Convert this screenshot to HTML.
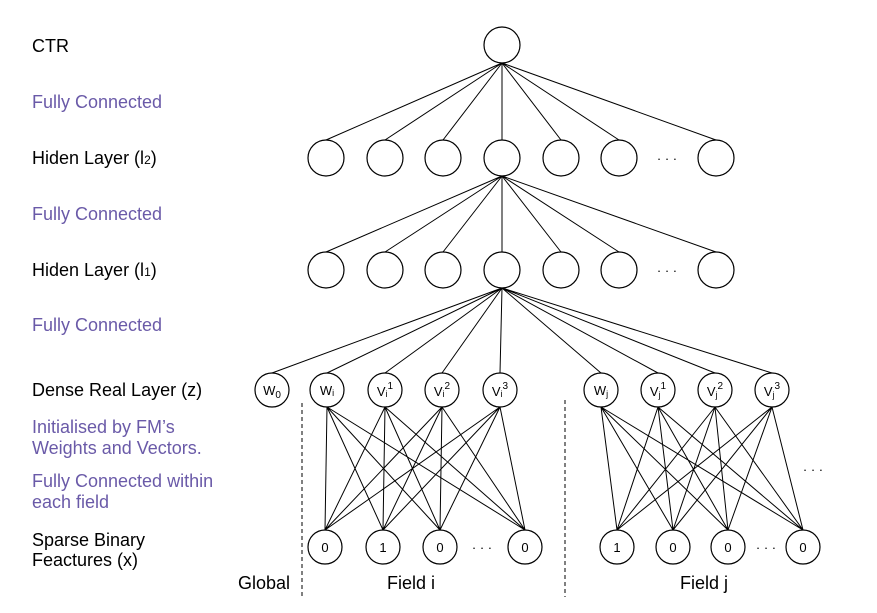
<!DOCTYPE html>
<html><head><meta charset="utf-8"><style>
html,body{margin:0;padding:0;background:#fff;}
svg text{font-family:"Liberation Sans",Arial,sans-serif;}
</style></head><body>
<svg width="877" height="608" viewBox="0 0 877 608" xmlns="http://www.w3.org/2000/svg">
<g font-size="18" fill="#000">
<text x="32" y="52">CTR</text>
<text x="32" y="108" fill="#6a5aa8">Fully Connected</text>
<text x="32" y="164">Hiden Layer (l<tspan font-size="12">2</tspan>)</text>
<text x="32" y="220" fill="#6a5aa8">Fully Connected</text>
<text x="32" y="276">Hiden Layer (l<tspan font-size="12">1</tspan>)</text>
<text x="32" y="331" fill="#6a5aa8">Fully Connected</text>
<text x="32" y="396">Dense Real Layer (z)</text>
<text x="32" y="433" fill="#6a5aa8">Initialised by FM’s</text>
<text x="32" y="454" fill="#6a5aa8">Weights and Vectors.</text>
<text x="32" y="487" fill="#6a5aa8">Fully Connected within</text>
<text x="32" y="508" fill="#6a5aa8">each field</text>
<text x="32" y="546">Sparse Binary</text>
<text x="32" y="566">Feactures (x)</text>
<text x="238" y="589">Global</text>
<text x="387" y="589">Field i</text>
<text x="680" y="589">Field j</text>
</g>
<g stroke="#000" stroke-width="1" fill="none">
<path d="M502 63L326 140M502 63L385 140M502 63L443 140M502 63L502 140M502 63L561 140M502 63L619 140M502 63L716 140"/>
<path d="M502 176L326 252M502 176L385 252M502 176L443 252M502 176L502 252M502 176L561 252M502 176L619 252M502 176L716 252"/>
<path d="M502 288L272 373M502 288L327 373M502 288L385 373M502 288L442 373M502 288L500 373M502 288L601 373M502 288L658 373M502 288L715 373M502 288L772 373"/>
<path d="M327 407L325 530M327 407L383 530M327 407L440 530M327 407L525 530
M385 407L325 530M385 407L383 530M385 407L440 530M385 407L525 530
M442 407L325 530M442 407L383 530M442 407L440 530M442 407L525 530
M500 407L325 530M500 407L383 530M500 407L440 530M500 407L525 530"/>
<path d="M601 407L617 530M601 407L673 530M601 407L728 530M601 407L803 530
M658 407L617 530M658 407L673 530M658 407L728 530M658 407L803 530
M715 407L617 530M715 407L673 530M715 407L728 530M715 407L803 530
M772 407L617 530M772 407L673 530M772 407L728 530M772 407L803 530"/>
<path d="M302 403V597M565 400V597" stroke-dasharray="4,3"/>
</g>
<g stroke="#000" stroke-width="1.2" fill="#fff">
<circle cx="502" cy="45" r="18"/>
<circle cx="326" cy="158" r="18"/><circle cx="385" cy="158" r="18"/><circle cx="443" cy="158" r="18"/><circle cx="502" cy="158" r="18"/><circle cx="561" cy="158" r="18"/><circle cx="619" cy="158" r="18"/><circle cx="716" cy="158" r="18"/>
<circle cx="326" cy="270" r="18"/><circle cx="385" cy="270" r="18"/><circle cx="443" cy="270" r="18"/><circle cx="502" cy="270" r="18"/><circle cx="561" cy="270" r="18"/><circle cx="619" cy="270" r="18"/><circle cx="716" cy="270" r="18"/>
<circle cx="272" cy="390" r="17"/><circle cx="327" cy="390" r="17"/><circle cx="385" cy="390" r="17"/><circle cx="442" cy="390" r="17"/><circle cx="500" cy="390" r="17"/>
<circle cx="601" cy="390" r="17"/><circle cx="658" cy="390" r="17"/><circle cx="715" cy="390" r="17"/><circle cx="772" cy="390" r="17"/>
<circle cx="325" cy="547" r="17"/><circle cx="383" cy="547" r="17"/><circle cx="440" cy="547" r="17"/><circle cx="525" cy="547" r="17"/>
<circle cx="617" cy="547" r="17"/><circle cx="673" cy="547" r="17"/><circle cx="728" cy="547" r="17"/><circle cx="803" cy="547" r="17"/>
</g>
<g font-size="13" fill="#000" text-anchor="middle">
<text x="667" y="163">· · ·</text><text x="667" y="275">· · ·</text>
<text x="482" y="552">· · ·</text><text x="766" y="552">· · ·</text><text x="813" y="474">· · ·</text>
<text x="272" y="395">W<tspan font-size="10" dy="3">0</tspan></text>
<text x="327" y="395">W<tspan font-size="9" dy="1">i</tspan></text>
<text x="385" y="396">V<tspan font-size="9" dy="1">i</tspan><tspan font-size="10" dy="-8">1</tspan></text>
<text x="442" y="396">V<tspan font-size="9" dy="1">i</tspan><tspan font-size="10" dy="-8">2</tspan></text>
<text x="500" y="396">V<tspan font-size="9" dy="1">i</tspan><tspan font-size="10" dy="-8">3</tspan></text>
<text x="601" y="395">W<tspan font-size="9" dy="2">j</tspan></text>
<text x="658" y="396">V<tspan font-size="9" dy="2">j</tspan><tspan font-size="10" dy="-9">1</tspan></text>
<text x="715" y="396">V<tspan font-size="9" dy="2">j</tspan><tspan font-size="10" dy="-9">2</tspan></text>
<text x="772" y="396">V<tspan font-size="9" dy="2">j</tspan><tspan font-size="10" dy="-9">3</tspan></text>
<text x="325" y="552">0</text><text x="383" y="552">1</text><text x="440" y="552">0</text><text x="525" y="552">0</text>
<text x="617" y="552">1</text><text x="673" y="552">0</text><text x="728" y="552">0</text><text x="803" y="552">0</text>
</g>
</svg>
</body></html>
